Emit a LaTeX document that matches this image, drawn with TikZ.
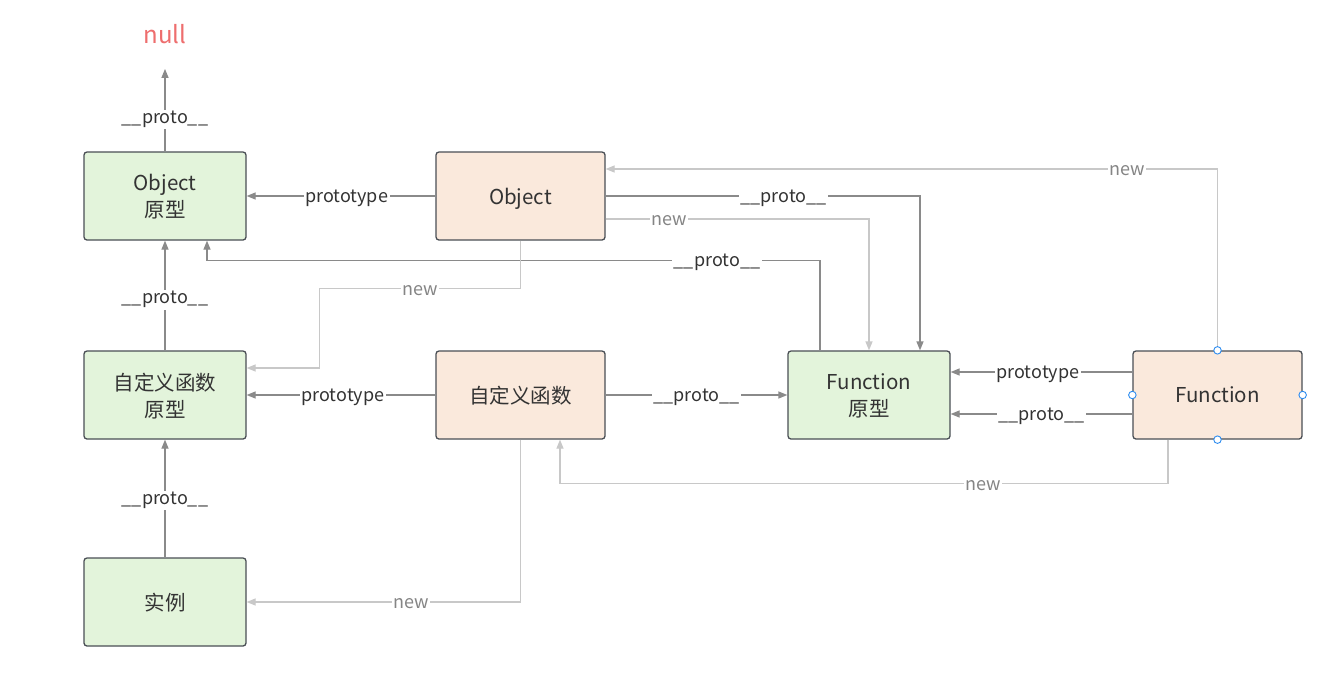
\documentclass[tikz,border=0pt]{standalone}
\usepackage{fontspec}
\setmainfont{Noto Sans CJK SC}
\usetikzlibrary{arrows.meta}
\definecolor{boxgreen}{HTML}{E3F4DB}
\definecolor{boxpeach}{HTML}{FAE9DC}
\definecolor{boxline}{HTML}{4A4F55}
\definecolor{darkln}{HTML}{8A8A8A}
\definecolor{lightln}{HTML}{C8C8C8}
\definecolor{txt}{HTML}{333333}
\definecolor{newtxt}{HTML}{858585}
\definecolor{nullred}{HTML}{EE6E6E}
\definecolor{handle}{HTML}{2D8CF0}
\newcommand\protolbl{\_\_proto\_\_}
\tikzset{
  box/.style={draw=boxline, line width=1.3pt, rounded corners=3pt, minimum height=88pt, align=center, text=txt, text depth=0pt, font=\fontsize{20.5}{27}\selectfont},
  gbox/.style={box, fill=boxgreen, minimum width=162pt},
  pbox/.style={box, fill=boxpeach, minimum width=169pt},
  darkarr/.style={draw=darkln, line width=1.3pt, -{Triangle[length=9pt,width=7pt]}},
  lightarr/.style={draw=lightln, line width=1.3pt, -{Triangle[length=9pt,width=7pt]}},
  lbl/.style={fill=white, inner sep=1.5pt, yshift=-2pt, text=txt, font=\fontsize{18}{20}\selectfont},
  nlbl/.style={fill=white, inner sep=1pt, yshift=-2pt, text=newtxt, font=\fontsize{18}{20}\selectfont},
  hdl/.style={circle, draw=handle, fill=white, line width=0.9pt, inner sep=0pt, minimum size=7.5pt}
}
\begin{document}
\begin{tikzpicture}[x=1pt,y=-1pt]
\useasboundingbox[fill=white] (0,0) rectangle (1317,689);
% nodes
\node[text=nullred, font=\fontsize{24}{26}\selectfont, inner sep=0pt] (null) at (165,34) {null};
\node[gbox] (op) at (165,196) {Object\\原型};
\node[pbox] (obj) at (520.5,196) {Object};
\node[gbox] (dp) at (165,395) {自定义函数\\原型};
\node[pbox] (dd) at (520.5,395) {自定义函数};
\node[gbox] (fp) at (869,395) {Function\\原型};
\node[pbox] (fn) at (1217.5,395) {Function};
\node[gbox] (inst) at (165,602) {实例};
% dark connectors
\draw[darkarr] (op.north) -- node[lbl,pos=0.41] (l1) {\protolbl} ([yshift=-25pt]null.south);
\draw[darkarr] (obj.west) -- node[lbl,pos=0.47] (l2) {prototype} (op.east);
\draw[darkarr] (obj.east) -| node[lbl,pos=0.283] (l3) {\protolbl} ([xshift=51pt]fp.north);
\draw[darkarr] ([xshift=-49pt]fp.north) -- ++(0,-90) -| node[lbl,pos=0.084] (l5) {\protolbl} ([xshift=42pt]op.south);
\draw[darkarr] (dp.north) -- node[lbl,pos=0.48] (l7) {\protolbl} (op.south);
\draw[darkarr] (dd.west) -- node[lbl,pos=0.49] (l8) {prototype} (dp.east);
\draw[darkarr] (dd.east) -- node[lbl,midway] (l9) {\protolbl} (fp.west);
\draw[darkarr] ([yshift=23pt]fn.west) -- node[lbl,pos=0.52] (l10) {prototype} ([yshift=23pt]fp.east);
\draw[darkarr] ([yshift=-19pt]fn.west) -- node[lbl,midway] (l11) {\protolbl} ([yshift=-19pt]fp.east);
\draw[darkarr] (inst.north) -- node[lbl,midway] (l14) {\protolbl} (dp.south);
% light connectors
\draw[lightarr] ([yshift=-23pt]obj.east) -| node[nlbl,pos=0.12] (l4) {new} (fp.north);
\draw[lightarr] (obj.south) -- ++(0,48) -- node[nlbl,midway] (l6) {new} ++(-201,0) |- ([yshift=27pt]dp.east);
\draw[lightarr] ([xshift=-49.5pt]fn.south) -- ++(0,44) -| node[nlbl,pos=0.152] (l12) {new} ([xshift=39.5pt]dd.south);
\draw[lightarr] (fn.north) |- node[nlbl,pos=0.574] (l13) {new} ([yshift=27pt]obj.east);
\draw[lightarr] (dd.south) |- node[nlbl,pos=0.70] (l15) {new} (inst.east);
% selection handles
\node[hdl] (h1) at (fn.north) {};
\node[hdl] (h2) at (fn.south) {};
\node[hdl] (h3) at (fn.west) {};
\node[hdl] (h4) at (fn.east) {};
\end{tikzpicture}
\end{document}
